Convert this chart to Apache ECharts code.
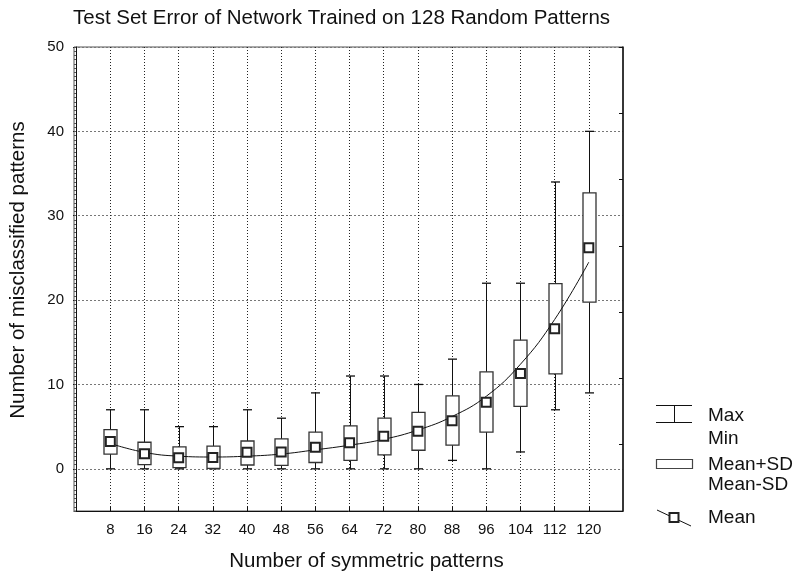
<!DOCTYPE html>
<html>
<head>
<meta charset="utf-8">
<script src="https://cdn.jsdelivr.net/npm/echarts@6/dist/echarts.min.js"></script>
<style>
html,body{margin:0;padding:0;background:#fff;}
#chart{width:799px;height:577px;}
</style>
</head>
<body>
<div id="chart"></div>
<script>
// ---- data ----
const xValues = [8, 16, 24, 32, 40, 48, 56, 64, 72, 80, 88, 96, 104, 112, 120];
const maxValues = [7, 7, 5, 5, 7, 6, 9, 11, 11, 10, 13, 22, 22, 34, 40];
const minValues = [0, 0, 0, 0, 0, 0, 0, 0, 0, 0, 1, 0, 2, 7, 9];
const meanPlusSD = [4.65, 3.15, 2.6, 2.7, 3.3, 3.55, 4.35, 5.1, 6.0, 6.7, 8.65, 11.5, 15.25, 21.95, 32.7];
const meanMinusSD = [1.75, 0.5, 0.15, 0.05, 0.45, 0.4, 0.75, 1.0, 1.65, 2.2, 2.8, 4.35, 7.4, 11.25, 19.75];
const meanValues = [3.25, 1.8, 1.3, 1.35, 1.95, 2.0, 2.55, 3.1, 3.85, 4.45, 5.7, 7.9, 11.3, 16.6, 26.2];
const fitValues = [3.0, 1.95, 1.5, 1.4, 1.5, 1.75, 2.25, 2.8, 3.5, 4.6, 6.2, 8.6, 12.4, 17.7, 24.5];
const yTickValues = [0, 10, 20, 30, 40, 50];
const xTickValues = xValues.slice();

const titleText = 'Test Set Error of Network Trained on 128 Random Patterns';
const xName = 'Number of symmetric patterns';
const yName = 'Number of misclassified patterns';
const FONT = "'Liberation Sans', Arial, Helvetica, sans-serif";

const boxData = xValues.map((x, i) => [x, maxValues[i], minValues[i], meanPlusSD[i], meanMinusSD[i]]);
const meanData = xValues.map((x, i) => [x, meanValues[i]]);
const fitData = xValues.map((x, i) => [x, fitValues[i]]);

const chart = echarts.init(document.getElementById('chart'), null, {renderer: 'canvas'});

function renderBox(params, api) {
  const x = api.value(0);
  const pMax = api.coord([x, api.value(1)]);
  const pMin = api.coord([x, api.value(2)]);
  const pHi = api.coord([x, api.value(3)]);
  const pLo = api.coord([x, api.value(4)]);
  const bw = 13, cw = 9;
  const cx = Math.round(pMax[0]) + 0.5;
  return {
    type: 'group',
    children: [
      {type: 'line', shape: {x1: cx, y1: pMax[1], x2: cx, y2: pMin[1]}, style: {stroke: '#111', lineWidth: 1}},
      {type: 'line', shape: {x1: cx - cw / 2, y1: pMax[1], x2: cx + cw / 2, y2: pMax[1]}, style: {stroke: '#111', lineWidth: 1.3}},
      {type: 'line', shape: {x1: cx - cw / 2, y1: pMin[1], x2: cx + cw / 2, y2: pMin[1]}, style: {stroke: '#111', lineWidth: 1.3}},
      {type: 'rect', shape: {x: cx - bw / 2, y: pHi[1], width: bw, height: pLo[1] - pHi[1]},
        style: {fill: '#fff', stroke: '#333', lineWidth: 1.3}}
    ]
  };
}

const legendX = 656, legendTextX = 708;
const legendFont = {fontFamily: FONT, fontSize: 19, fill: '#111'};

const option = {
  backgroundColor: '#fff',
  animation: false,
  title: {
    text: titleText,
    left: 68,
    top: 3,
    textStyle: {fontFamily: FONT, fontSize: 20.5, fontWeight: 'normal', color: '#111'}
  },
  grid: {
    left: 73, right: 176, top: 47, bottom: 65,
    show: true, borderColor: '#555', borderWidth: 1, backgroundColor: 'transparent'
  },
  xAxis: {
    type: 'value',
    min: -0.5, max: 128,
    name: xName,
    nameLocation: 'middle',
    nameGap: 40,
    nameTextStyle: {fontFamily: FONT, fontSize: 20.5, color: '#111', padding: [0, 0, 0, 36]},
    axisLine: {show: true, onZero: false, lineStyle: {color: '#111', width: 1}},
    axisTick: {show: true, inside: true, length: 4, customValues: xTickValues, lineStyle: {color: '#111'}},
    axisLabel: {show: true, customValues: xTickValues, margin: 11, fontFamily: FONT, fontSize: 15, color: '#111'},
    splitLine: {show: true, lineStyle: {color: '#222', type: [1, 2], width: 1}}
  },
  yAxis: [
    {
      type: 'value',
      min: -5, max: 50,
      position: 'left',
      name: yName,
      nameLocation: 'middle',
      nameGap: 45,
      nameRotate: 90,
      nameTextStyle: {fontFamily: FONT, fontSize: 20.5, color: '#111', padding: [0, 0, 0, 18]},
      axisLine: {show: true, lineStyle: {color: '#111', width: 1}},
      axisTick: {show: true, inside: false, length: 3, customValues: yTickValues, lineStyle: {color: '#111'}},
      axisLabel: {show: true, customValues: yTickValues, margin: 10, fontFamily: FONT, fontSize: 15, color: '#111'},
      splitLine: {show: true, lineStyle: {color: '#777', type: [2, 2], width: 1}}
    },
    {
      type: 'value',
      min: -5, max: 50, interval: 0.5,
      position: 'left',
      axisLine: {show: false},
      axisTick: {show: true, inside: true, length: 2, lineStyle: {color: '#555'}},
      axisLabel: {show: false},
      splitLine: {show: false}
    },
    {
      type: 'value',
      min: 0, max: 7, interval: 1,
      position: 'right',
      axisLine: {show: true, lineStyle: {color: '#111', width: 1.5}},
      axisTick: {show: true, inside: true, length: 4, lineStyle: {color: '#111'}},
      axisLabel: {show: false},
      splitLine: {show: false}
    }
  ],
  series: [
    {
      type: 'custom',
      name: 'Range',
      renderItem: renderBox,
      data: boxData,
      encode: {x: 0, y: [1, 2, 3, 4]},
      z: 2,
      silent: true
    },
    {
      type: 'line',
      name: 'Fit',
      data: fitData,
      smooth: 0.45,
      showSymbol: false,
      symbol: 'none',
      lineStyle: {color: '#111', width: 1},
      z: 3,
      silent: true
    },
    {
      type: 'scatter',
      name: 'Mean',
      data: meanData,
      symbol: 'rect',
      symbolSize: 9,
      itemStyle: {color: '#fff', borderColor: '#222', borderWidth: 2, opacity: 1},
      z: 4,
      silent: true
    }
  ],
  graphic: [
    {type: 'line', shape: {x1: legendX, y1: 405.5, x2: legendX + 36, y2: 405.5}, style: {stroke: '#111', lineWidth: 1}},
    {type: 'line', shape: {x1: legendX, y1: 422.5, x2: legendX + 36, y2: 422.5}, style: {stroke: '#111', lineWidth: 1}},
    {type: 'line', shape: {x1: 674.5, y1: 405.5, x2: 674.5, y2: 422.5}, style: {stroke: '#111', lineWidth: 1}},
    {type: 'text', x: legendTextX, y: 416, style: Object.assign({text: 'Max', verticalAlign: 'middle'}, legendFont)},
    {type: 'text', x: legendTextX, y: 438.5, style: Object.assign({text: 'Min', verticalAlign: 'middle'}, legendFont)},
    {type: 'rect', shape: {x: legendX + 0.5, y: 459.5, width: 36, height: 9}, style: {fill: '#fff', stroke: '#444', lineWidth: 1.2}},
    {type: 'text', x: legendTextX, y: 465, style: Object.assign({text: 'Mean+SD', verticalAlign: 'middle'}, legendFont)},
    {type: 'text', x: legendTextX, y: 485, style: Object.assign({text: 'Mean-SD', verticalAlign: 'middle'}, legendFont)},
    {type: 'line', shape: {x1: 657, y1: 510, x2: 691, y2: 526}, style: {stroke: '#111', lineWidth: 1}},
    {type: 'rect', shape: {x: 669.5, y: 513, width: 9, height: 9}, style: {fill: '#fff', stroke: '#222', lineWidth: 2}},
    {type: 'text', x: legendTextX, y: 518, style: Object.assign({text: 'Mean', verticalAlign: 'middle'}, legendFont)}
  ]
};

chart.setOption(option);
</script>
</body>
</html>
